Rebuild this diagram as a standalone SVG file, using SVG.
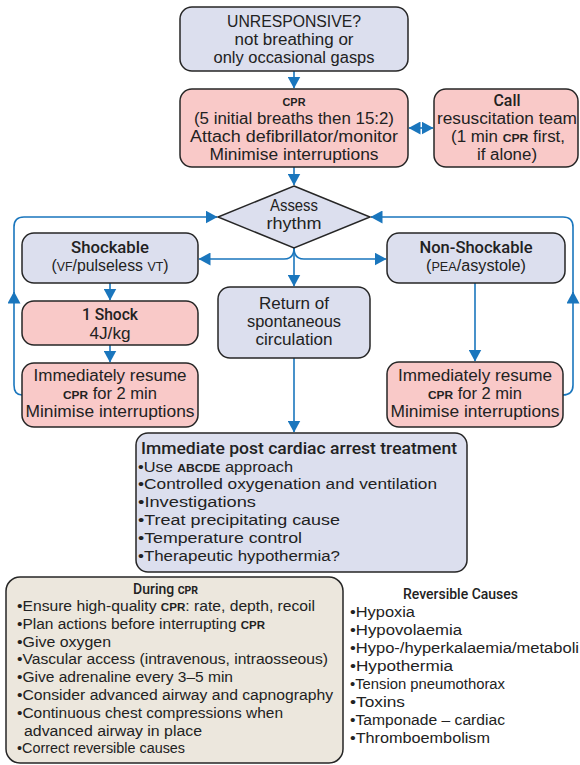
<svg xmlns="http://www.w3.org/2000/svg" width="580" height="765" viewBox="0 0 580 765">
<defs>
<style>
text{font-family:"Liberation Sans","Roboto",sans-serif;fill:#222222;font-size:16px}
.c{text-anchor:middle}
.h{font-family:"Roboto","Liberation Sans",sans-serif;font-weight:500}
.l{font-size:15.5px}
.sc{font-size:11.5px;font-weight:700}
.scr{font-size:12.5px}
.lav{fill:#dcdfee;stroke:#262626;stroke-width:1.5}
.pink{fill:#f9c9c8;stroke:#262626;stroke-width:1.5}
.beige{fill:#ece7dd;stroke:#262626;stroke-width:1.5}
.cn{fill:none;stroke:#1a76bd;stroke-width:1.6}
</style>
<marker id="ah" viewBox="0 0 12 13" refX="11.5" refY="6.5" markerWidth="12" markerHeight="13" markerUnits="userSpaceOnUse" orient="auto-start-reverse">
<path d="M0,0 L12,6.5 L0,13 z" fill="#1a76bd"/>
</marker>
</defs>
<rect width="580" height="765" fill="#ffffff"/>

<g id="connectors">
<path class="cn" d="M294,71 V88" marker-end="url(#ah)"/>
<path class="cn" d="M409,128 H433" marker-start="url(#ah)" marker-end="url(#ah)"/>
<path class="cn" d="M294,167 V185" marker-end="url(#ah)"/>
<path class="cn" d="M294,248 V286" marker-end="url(#ah)"/>
<path class="cn" d="M294,248 Q294,259 284,259 H199" marker-end="url(#ah)"/>
<path class="cn" d="M294,248 Q294,259 304,259 H386" marker-end="url(#ah)"/>
<path class="cn" d="M110,283 V300" marker-end="url(#ah)"/>
<path class="cn" d="M110,345 V362" marker-end="url(#ah)"/>
<path class="cn" d="M475,283 V361" marker-end="url(#ah)"/>
<path class="cn" d="M294,358 V432" marker-end="url(#ah)"/>
<path class="cn" d="M22,395 Q14,395 14,385 V292" marker-end="url(#ah)"/>
<path class="cn" d="M14,300 V227 Q14,217 24,217 H217" marker-end="url(#ah)"/>
<path class="cn" d="M563,395 Q573,395 573,385 V292" marker-end="url(#ah)"/>
<path class="cn" d="M573,300 V227 Q573,217 563,217 H371" marker-end="url(#ah)"/>
</g>

<g id="unresponsive">
<rect class="lav" x="180" y="7" width="228" height="64" rx="12"/>
<text class="c" x="294" y="27" textLength="134" lengthAdjust="spacingAndGlyphs">UNRESPONSIVE?</text>
<text class="c" x="294" y="45" textLength="119" lengthAdjust="spacingAndGlyphs">not breathing or</text>
<text class="c" x="294" y="63" textLength="161" lengthAdjust="spacingAndGlyphs">only occasional gasps</text>
</g>

<g id="cpr">
<rect class="pink" x="180" y="89" width="228" height="78" rx="12"/>
<text class="c sc" x="294" y="106" textLength="23" lengthAdjust="spacingAndGlyphs">CPR</text>
<text class="c" x="294" y="124" textLength="200" lengthAdjust="spacingAndGlyphs">(5 initial breaths then 15:2)</text>
<text class="c" x="294" y="142" textLength="208" lengthAdjust="spacingAndGlyphs">Attach defibrillator/monitor</text>
<text class="c" x="294" y="160" textLength="169" lengthAdjust="spacingAndGlyphs">Minimise interruptions</text>
</g>

<g id="call-team">
<rect class="pink" x="434" y="89" width="144" height="78" rx="12"/>
<text class="c h" x="507" y="105.5" textLength="27" lengthAdjust="spacingAndGlyphs">Call</text>
<text class="c" x="507" y="124" textLength="140" lengthAdjust="spacingAndGlyphs">resuscitation team</text>
<text class="c" x="508" y="142" textLength="114" lengthAdjust="spacingAndGlyphs">(1 min <tspan class="sc">CPR</tspan> first,</text>
<text class="c" x="507" y="159.5" textLength="60" lengthAdjust="spacingAndGlyphs">if alone)</text>
</g>

<g id="assess-rhythm">
<polygon class="lav" points="294,186 370,217 294,248 218,217"/>
<text class="c" x="294" y="211" textLength="48" lengthAdjust="spacingAndGlyphs">Assess</text>
<text class="c" x="294" y="229" textLength="55" lengthAdjust="spacingAndGlyphs">rhythm</text>
</g>

<g id="shockable">
<rect class="lav" x="22" y="233" width="176" height="50" rx="12"/>
<text class="c h" x="110" y="252.5" textLength="78" lengthAdjust="spacingAndGlyphs">Shockable</text>
<text class="c" x="110" y="271" textLength="117" lengthAdjust="spacingAndGlyphs">(<tspan class="scr">VF</tspan>/pulseless <tspan class="scr">VT</tspan>)</text>
</g>

<g id="non-shockable">
<rect class="lav" x="387" y="233" width="178" height="50" rx="12"/>
<text class="c h" x="476" y="252.5" textLength="113" lengthAdjust="spacingAndGlyphs">Non-Shockable</text>
<text class="c" x="476" y="271" textLength="100" lengthAdjust="spacingAndGlyphs">(<tspan class="scr">PEA</tspan>/asystole)</text>
</g>

<g id="shock">
<rect class="pink" x="22" y="301" width="176" height="44" rx="12"/>
<text class="c h" x="110" y="320" textLength="56" lengthAdjust="spacingAndGlyphs">1 Shock</text>
<text class="c" x="110" y="338.5" textLength="41" lengthAdjust="spacingAndGlyphs">4J/kg</text>
</g>

<g id="resume-left">
<rect class="pink" x="22" y="363" width="176" height="64" rx="12"/>
<text class="c" x="110" y="381" textLength="153" lengthAdjust="spacingAndGlyphs">Immediately resume</text>
<text class="c" x="110" y="399" textLength="94" lengthAdjust="spacingAndGlyphs"><tspan class="sc">CPR</tspan> for 2 min</text>
<text class="c" x="110" y="417" textLength="169" lengthAdjust="spacingAndGlyphs">Minimise interruptions</text>
</g>

<g id="resume-right">
<rect class="pink" x="387" y="362" width="176" height="65" rx="12"/>
<text class="c" x="475" y="381" textLength="154" lengthAdjust="spacingAndGlyphs">Immediately resume</text>
<text class="c" x="475" y="399" textLength="94" lengthAdjust="spacingAndGlyphs"><tspan class="sc">CPR</tspan> for 2 min</text>
<text class="c" x="475" y="417" textLength="169" lengthAdjust="spacingAndGlyphs">Minimise interruptions</text>
</g>

<g id="rosc">
<rect class="lav" x="218" y="287" width="152" height="71" rx="12"/>
<text class="c" x="294" y="309" textLength="70" lengthAdjust="spacingAndGlyphs">Return of</text>
<text class="c" x="294" y="327" textLength="94" lengthAdjust="spacingAndGlyphs">spontaneous</text>
<text class="c" x="294" y="345" textLength="77" lengthAdjust="spacingAndGlyphs">circulation</text>
</g>

<g id="post-arrest">
<rect class="lav" x="136" y="433" width="331" height="139" rx="12"/>
<text class="h" x="141" y="453.5" textLength="316" lengthAdjust="spacingAndGlyphs">Immediate post cardiac arrest treatment</text>
<text class="l" x="138" y="471.5" textLength="155" lengthAdjust="spacingAndGlyphs">•Use <tspan class="sc">ABCDE</tspan> approach</text>
<text class="l" x="138" y="489.3" textLength="299" lengthAdjust="spacingAndGlyphs">•Controlled oxygenation and ventilation</text>
<text class="l" x="138" y="507.1" textLength="118" lengthAdjust="spacingAndGlyphs">•Investigations</text>
<text class="l" x="138" y="524.9" textLength="202" lengthAdjust="spacingAndGlyphs">•Treat precipitating cause</text>
<text class="l" x="138" y="542.7" textLength="164" lengthAdjust="spacingAndGlyphs">•Temperature control</text>
<text class="l" x="138" y="560.5" textLength="202" lengthAdjust="spacingAndGlyphs">•Therapeutic hypothermia?</text>
</g>

<g id="during-cpr">
<rect class="beige" x="6" y="577" width="337" height="186" rx="14"/>
<text class="h" x="133" y="593.5" style="font-size:14px">During <tspan style="font-size:10.5px;font-weight:700">CPR</tspan></text>
<text class="l" x="17" y="611" textLength="298" lengthAdjust="spacingAndGlyphs">•Ensure high-quality <tspan class="sc">CPR</tspan>: rate, depth, recoil</text>
<text class="l" x="17" y="628.8" textLength="248" lengthAdjust="spacingAndGlyphs">•Plan actions before interrupting <tspan class="sc">CPR</tspan></text>
<text class="l" x="17" y="646.6" textLength="94" lengthAdjust="spacingAndGlyphs">•Give oxygen</text>
<text class="l" x="17" y="664.4" textLength="311" lengthAdjust="spacingAndGlyphs">•Vascular access (intravenous, intraosseous)</text>
<text class="l" x="17" y="682.2" textLength="216" lengthAdjust="spacingAndGlyphs">•Give adrenaline every 3–5 min</text>
<text class="l" x="17" y="700" textLength="316" lengthAdjust="spacingAndGlyphs">•Consider advanced airway and capnography</text>
<text class="l" x="17" y="717.8" textLength="266" lengthAdjust="spacingAndGlyphs">•Continuous chest compressions when</text>
<text class="l" x="24" y="735.6" textLength="178" lengthAdjust="spacingAndGlyphs">advanced airway in place</text>
<text class="l" x="17" y="753.4" textLength="168" lengthAdjust="spacingAndGlyphs">•Correct reversible causes</text>
</g>

<g id="reversible-causes">
<text class="h l" x="403" y="599" textLength="115" lengthAdjust="spacingAndGlyphs">Reversible Causes</text>
<text class="l" x="350" y="617" textLength="65" lengthAdjust="spacingAndGlyphs">•Hypoxia</text>
<text class="l" x="350" y="635" textLength="112" lengthAdjust="spacingAndGlyphs">•Hypovolaemia</text>
<text class="l" x="350" y="653" textLength="229" lengthAdjust="spacingAndGlyphs">•Hypo-/hyperkalaemia/metaboli</text>
<text class="l" x="350" y="671" textLength="103" lengthAdjust="spacingAndGlyphs">•Hypothermia</text>
<text class="l" x="350" y="689" textLength="155" lengthAdjust="spacingAndGlyphs">•Tension pneumothorax</text>
<text class="l" x="350" y="707" textLength="55" lengthAdjust="spacingAndGlyphs">•Toxins</text>
<text class="l" x="350" y="725" textLength="155" lengthAdjust="spacingAndGlyphs">•Tamponade – cardiac</text>
<text class="l" x="350" y="743" textLength="140" lengthAdjust="spacingAndGlyphs">•Thromboembolism</text>
</g>
</svg>
